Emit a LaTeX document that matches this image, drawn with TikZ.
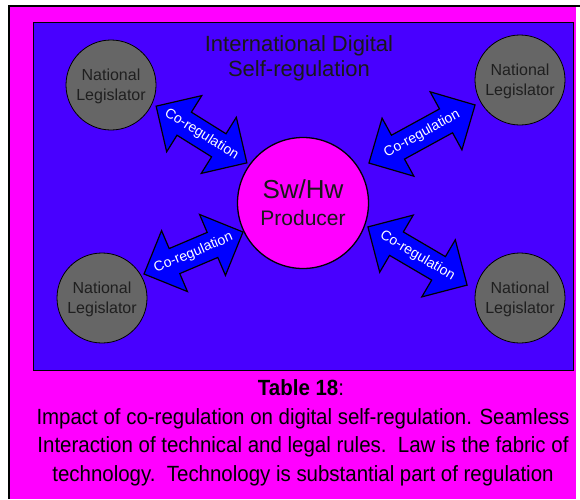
\documentclass[tikz,border=0pt]{standalone}
\usepackage{fontspec}
\setmainfont{Liberation Sans}
\newfontfamily\capfont{Liberation Sans}[FakeStretch=0.93]
\usetikzlibrary{shapes.arrows}
\definecolor{pagemag}{RGB}{255,0,255}
\definecolor{field}{RGB}{72,0,255}
\definecolor{arrowblue}{RGB}{0,0,255}
\definecolor{legis}{RGB}{102,102,102}

\begin{document}
\begin{tikzpicture}[x=1pt,y=-1pt,
  legislator/.style={circle, draw=black, line width=0.8pt, fill=legis,
    minimum size=90pt, inner sep=0pt, align=center, text=black!88,
    font=\fontsize{16}{20}\selectfont, text depth=0pt},
  producer/.style={circle, draw=black, line width=1.3pt, fill=pagemag,
    minimum size=131pt, inner sep=0pt},
  prodtext/.style={anchor=base, inner sep=0pt, text=black!90},
  coreg/.style={shape=double arrow, double arrow head extend=19.5pt,
    double arrow tip angle=90, fill=arrowblue, draw=black, line width=1.2pt,
    inner xsep=0pt, inner ysep=13pt},
  coregtext/.style={text=white, font=\fontsize{14}{14}\selectfont, inner sep=0pt},
  title/.style={anchor=base, font=\fontsize{22}{22}\selectfont, text=black!90, inner sep=0pt},
  caption/.style={anchor=base, font=\capfont\fontsize{22}{22}\selectfont, inner sep=0pt},
]
\useasboundingbox (0,0) rectangle (580,499);
\fill[white] (0,0) rectangle (580,499);

% page frame and the blue field
\fill[pagemag] (9,6) rectangle (576,499);
\draw[line width=1.6pt] (9,499) -- (9,6) -- (580,6);
\draw[fill=field, line width=0.8pt] (33,22) rectangle (573,370);

% heading of the field
\node[title] (head1) at (299,51) {International Digital};
\node[title] (head2) at (299,76) {Self-regulation};

% national legislators
\node[legislator] (nl1) at (111,85)  {National\\Legislator};
\node[legislator] (nl2) at (520,80)  {National\\Legislator};
\node[legislator] (nl3) at (102,298) {National\\Legislator};
\node[legislator] (nl4) at (520,298) {National\\Legislator};

% producer in the middle
\node[producer] (prod) at (303,203) {};
\node[prodtext, font=\fontsize{26}{26}\selectfont] (prodA) at (303,198) {Sw/Hw};
\node[prodtext, font=\fontsize{21}{21}\selectfont] (prodB) at (303,225) {Producer};

% co-regulation arrows between producer and legislators
\node[coreg, rotate=-32.0, minimum height=107pt] (a1) at (201.5,134.5) {};
\node[coregtext, rotate=-32.0] (a1t) at (a1.center) {Co-regulation};
\node[coreg, rotate=28.7, minimum height=121pt] (a2) at (422,134) {};
\node[coregtext, rotate=28.7] (a2t) at (a2.center) {Co-regulation};
\node[coreg, rotate=23.0, minimum height=107.5pt] (a3) at (193.5,253) {};
\node[coregtext, rotate=23.0] (a3t) at (a3.center) {Co-regulation};
\node[coreg, rotate=-30.4, minimum height=115pt] (a4) at (417.5,256) {};
\node[coregtext, rotate=-30.4] (a4t) at (a4.center) {Co-regulation};

% caption
\node[caption] (cap0) at (301,395) {\textbf{Table 18}:};
\node[caption] (cap1) at (303,424) {Impact of co-regulation on digital self-regulation. Seamless};
\node[caption] (cap2) at (303,452.7) {Interaction of technical and legal rules.\ \ Law is the fabric of};
\node[caption] (cap3) at (303,481.7) {technology.\ \ Technology is substantial part of regulation};
\end{tikzpicture}
\end{document}
